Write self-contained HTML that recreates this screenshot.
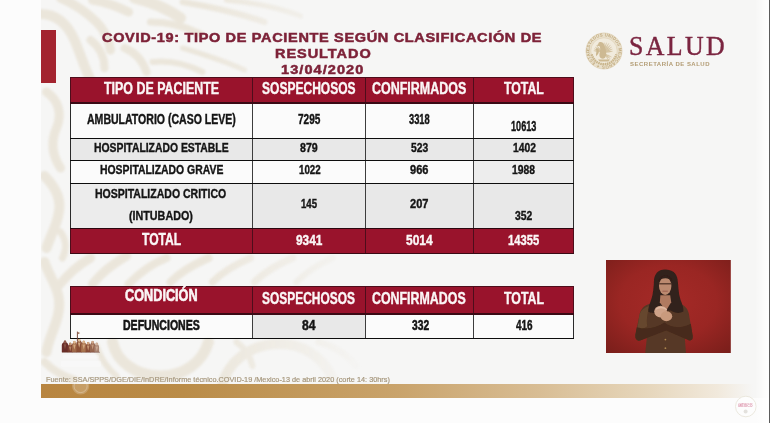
<!DOCTYPE html>
<html lang="es">
<head>
<meta charset="utf-8">
<title>COVID-19: Tipo de paciente según clasificación de resultado</title>
<style>
html,body{margin:0;padding:0;}
body{width:770px;height:423px;overflow:hidden;background:#fcfcfc;position:relative;font-family:"Liberation Sans","DejaVu Sans",sans-serif;}
#stage{position:absolute;left:0;top:0;width:770px;height:423px;overflow:hidden;background:#fcfcfc;}
#slide{position:absolute;left:40.5px;top:0;width:729.5px;height:397.7px;background:#f6f6f5;overflow:hidden;}
.b{position:absolute;}
.t{position:absolute;white-space:nowrap;transform-origin:0 0;display:block;}
.f1{font-family:"Liberation Sans","DejaVu Sans",sans-serif;}
.f2{font-family:"Liberation Serif","DejaVu Serif",serif;}
#redbar{position:absolute;left:40.8px;top:30.4px;width:14.8px;height:52.8px;background:#a3242f;}
#gold{position:absolute;left:40.5px;top:384.4px;width:712px;height:13.2px;background:linear-gradient(90deg,#b88540 0%,#ba8c48 20%,#c9a36b 50%,#d8bd94 70%,#e6d6bb 85%,#f1e9dc 95%,#f6f6f5 100%);}
</style>
</head>
<body>
<div id="stage">
<div id="slide"></div>
<svg id="wm" class="b" style="left:40.5px;top:0" width="330" height="398" viewBox="40.5 0 330 398">
<defs><filter id="wblur" x="-10%" y="-10%" width="120%" height="120%"><feGaussianBlur stdDeviation="1.3"/></filter>
<linearGradient id="wfade" x1="0" x2="1" y1="0" y2="0"><stop offset="0" stop-color="#fff"/><stop offset="0.5" stop-color="#fff"/><stop offset="0.78" stop-color="#777"/><stop offset="1" stop-color="#000"/></linearGradient>
<mask id="wmask"><rect x="40" y="0" width="331" height="398" fill="url(#wfade)"/></mask></defs>
<g mask="url(#wmask)"><g filter="url(#wblur)" fill="none" stroke="#ebe6db" stroke-linecap="round" stroke-linejoin="round">
<!-- top-left big swoosh -->
<path d="M40 14 C54 14 66 22 74 40 C80 54 84 68 90 80" stroke-width="10"/>
<path d="M60 -2 C74 4 86 12 96 22 C104 30 108 38 110 50" stroke-width="9"/>
<path d="M90 40 C98 46 104 56 104 68" stroke-width="8"/>
<path d="M124 48 C134 52 142 60 146 72" stroke-width="8"/>
<path d="M152 62 C168 60 186 64 202 72" stroke-width="6"/>
<!-- top feathers -->
<path d="M92 0 C104 2 116 6 128 12" stroke-width="9"/>
<path d="M134 -2 C150 2 166 8 180 18" stroke-width="11"/>
<path d="M150 22 C166 22 184 26 200 34" stroke-width="7"/>
<path d="M182 2 C206 6 236 12 264 22" stroke-width="6"/>
<path d="M182 48 C202 54 222 60 244 70" stroke-width="5"/>
<path d="M226 0 C250 2 280 8 300 16" stroke-width="5"/>
<!-- left strip waves -->
<path d="M46 92 C58 100 62 114 56 128 C50 142 52 156 60 168" stroke-width="9"/>
<path d="M44 176 C54 186 62 198 58 214 C56 226 50 236 46 248" stroke-width="10"/>
<path d="M60 232 C66 240 66 250 62 258" stroke-width="7"/>
<path d="M44 262 C50 280 62 292 58 312 C56 326 48 338 46 352" stroke-width="10"/>
<path d="M44 362 C52 370 62 376 74 380" stroke-width="8"/>
<!-- between tables diagonal leaves -->
<path d="M58 286 C66 276 76 266 90 258" stroke-width="9"/>
<path d="M92 284 C100 274 112 264 126 256" stroke-width="9"/>
<path d="M128 284 C138 274 150 264 166 258" stroke-width="8"/>
<path d="M170 282 C180 272 194 264 208 258" stroke-width="8"/>
<path d="M212 282 C222 272 236 264 250 258" stroke-width="7"/>
<path d="M254 282 C264 272 278 264 292 258" stroke-width="7"/>
<path d="M296 282 C306 272 318 264 332 258" stroke-width="6"/>
<!-- bottom strip arcs -->
<path d="M112 342 C116 362 136 376 160 376 C184 376 202 362 208 342" stroke-width="11"/>
<path d="M222 384 C228 362 248 346 274 344 C300 342 322 356 332 378" stroke-width="10"/>
<path d="M96 346 C100 358 106 368 116 376" stroke-width="6"/>
<path d="M236 342 C244 348 250 356 252 366" stroke-width="6"/>
<path d="M318 342 C334 346 346 354 356 366" stroke-width="6"/>
<!-- faint fill inside table column 1 (cells slightly translucent) -->
</g></g>
</svg>

<div id="redbar"></div>
<div id="gold"></div>
<div class="b" style="left:70.8px;top:77.7px;width:502.9px;height:25.4px;background:#99132c;"></div>
<div class="b" style="left:70.8px;top:103.1px;width:181.4px;height:35.4px;background:rgba(252,252,252,0.8);"></div>
<div class="b" style="left:252.2px;top:103.1px;width:113.2px;height:35.4px;background:rgba(252,252,252,0.8);"></div>
<div class="b" style="left:365.4px;top:103.1px;width:108.3px;height:35.4px;background:rgba(252,252,252,0.8);"></div>
<div class="b" style="left:473.7px;top:103.1px;width:100.0px;height:35.4px;background:rgba(252,252,252,0.8);"></div>
<div class="b" style="left:70.8px;top:138.5px;width:181.4px;height:21.8px;background:rgba(231,231,231,0.9);"></div>
<div class="b" style="left:252.2px;top:138.5px;width:113.2px;height:21.8px;background:rgba(231,231,231,0.9);"></div>
<div class="b" style="left:365.4px;top:138.5px;width:108.3px;height:21.8px;background:rgba(231,231,231,0.9);"></div>
<div class="b" style="left:473.7px;top:138.5px;width:100.0px;height:21.8px;background:rgba(231,231,231,0.9);"></div>
<div class="b" style="left:70.8px;top:160.3px;width:181.4px;height:22.9px;background:rgba(252,252,252,0.8);"></div>
<div class="b" style="left:252.2px;top:160.3px;width:113.2px;height:22.9px;background:rgba(252,252,252,0.8);"></div>
<div class="b" style="left:365.4px;top:160.3px;width:108.3px;height:22.9px;background:rgba(252,252,252,0.8);"></div>
<div class="b" style="left:473.7px;top:160.3px;width:100.0px;height:22.9px;background:rgba(236,236,236,0.9);"></div>
<div class="b" style="left:70.8px;top:183.2px;width:181.4px;height:45.0px;background:rgba(234,234,234,0.88);"></div>
<div class="b" style="left:252.2px;top:183.2px;width:113.2px;height:45.0px;background:rgba(231,231,231,0.9);"></div>
<div class="b" style="left:365.4px;top:183.2px;width:108.3px;height:45.0px;background:rgba(231,231,231,0.9);"></div>
<div class="b" style="left:473.7px;top:183.2px;width:100.0px;height:45.0px;background:rgba(231,231,231,0.9);"></div>
<div class="b" style="left:70.8px;top:228.2px;width:502.9px;height:25.1px;background:#99132c;"></div>
<div class="b" style="left:70.8px;top:286.4px;width:502.9px;height:27.6px;background:#99132c;"></div>
<div class="b" style="left:70.8px;top:314.0px;width:181.4px;height:24.9px;background:rgba(252,252,252,0.8);"></div>
<div class="b" style="left:252.2px;top:314.0px;width:113.2px;height:24.9px;background:rgba(231,231,231,0.9);"></div>
<div class="b" style="left:365.4px;top:314.0px;width:108.3px;height:24.9px;background:rgba(252,252,252,0.8);"></div>
<div class="b" style="left:473.7px;top:314.0px;width:100.0px;height:24.9px;background:rgba(252,252,252,0.8);"></div>
<div class="b" style="left:70.3px;top:103.1px;width:1.0px;height:125.1px;background:#2b2b2b;"></div>
<div class="b" style="left:251.5px;top:103.1px;width:1.4px;height:125.1px;background:#3d3d3d;"></div>
<div class="b" style="left:364.7px;top:103.1px;width:1.4px;height:125.1px;background:#3d3d3d;"></div>
<div class="b" style="left:473.0px;top:103.1px;width:1.4px;height:125.1px;background:#3d3d3d;"></div>
<div class="b" style="left:573.2px;top:103.1px;width:1.0px;height:125.1px;background:#2b2b2b;"></div>
<div class="b" style="left:70.3px;top:77.7px;width:1.0px;height:25.4px;background:#4e0d1b;"></div>
<div class="b" style="left:70.3px;top:228.2px;width:1.0px;height:25.1px;background:#4e0d1b;"></div>
<div class="b" style="left:251.7px;top:77.7px;width:1.0px;height:25.4px;background:#4e0d1b;"></div>
<div class="b" style="left:251.7px;top:228.2px;width:1.0px;height:25.1px;background:#4e0d1b;"></div>
<div class="b" style="left:364.9px;top:77.7px;width:1.0px;height:25.4px;background:#4e0d1b;"></div>
<div class="b" style="left:364.9px;top:228.2px;width:1.0px;height:25.1px;background:#4e0d1b;"></div>
<div class="b" style="left:473.2px;top:77.7px;width:1.0px;height:25.4px;background:#4e0d1b;"></div>
<div class="b" style="left:473.2px;top:228.2px;width:1.0px;height:25.1px;background:#4e0d1b;"></div>
<div class="b" style="left:573.2px;top:77.7px;width:1.0px;height:25.4px;background:#4e0d1b;"></div>
<div class="b" style="left:573.2px;top:228.2px;width:1.0px;height:25.1px;background:#4e0d1b;"></div>
<div class="b" style="left:70.3px;top:77.2px;width:503.9px;height:0.9px;background:#4e0d1b;"></div>
<div class="b" style="left:70.3px;top:102.4px;width:503.9px;height:1.3px;background:#3a0a14;"></div>
<div class="b" style="left:70.3px;top:137.9px;width:503.9px;height:1.1px;background:#0d0d0d;"></div>
<div class="b" style="left:70.3px;top:159.8px;width:503.9px;height:1.1px;background:#0d0d0d;"></div>
<div class="b" style="left:70.3px;top:182.6px;width:503.9px;height:1.1px;background:#0d0d0d;"></div>
<div class="b" style="left:70.3px;top:227.6px;width:503.9px;height:1.2px;background:#2a070f;"></div>
<div class="b" style="left:70.3px;top:252.7px;width:503.9px;height:1.2px;background:#3a0a14;"></div>
<div class="b" style="left:70.3px;top:314.0px;width:1.0px;height:24.9px;background:#2b2b2b;"></div>
<div class="b" style="left:70.3px;top:286.4px;width:1.0px;height:27.6px;background:#4e0d1b;"></div>
<div class="b" style="left:251.5px;top:314.0px;width:1.4px;height:24.9px;background:#3d3d3d;"></div>
<div class="b" style="left:251.7px;top:286.4px;width:1.0px;height:27.6px;background:#4e0d1b;"></div>
<div class="b" style="left:364.7px;top:314.0px;width:1.4px;height:24.9px;background:#3d3d3d;"></div>
<div class="b" style="left:364.9px;top:286.4px;width:1.0px;height:27.6px;background:#4e0d1b;"></div>
<div class="b" style="left:473.0px;top:314.0px;width:1.4px;height:24.9px;background:#3d3d3d;"></div>
<div class="b" style="left:473.2px;top:286.4px;width:1.0px;height:27.6px;background:#4e0d1b;"></div>
<div class="b" style="left:573.2px;top:314.0px;width:1.0px;height:24.9px;background:#2b2b2b;"></div>
<div class="b" style="left:573.2px;top:286.4px;width:1.0px;height:27.6px;background:#4e0d1b;"></div>
<div class="b" style="left:70.3px;top:285.9px;width:503.9px;height:0.9px;background:#4e0d1b;"></div>
<div class="b" style="left:70.3px;top:313.4px;width:503.9px;height:1.3px;background:#3a0a14;"></div>
<div class="b" style="left:70.3px;top:338.3px;width:503.9px;height:1.2px;background:#0d0d0d;"></div>
<!-- SALUD emblem -->
<svg class="b" style="left:582.8px;top:29.7px" width="42" height="42" viewBox="0 0 42 42">
<defs><path id="ring" d="M21 21 m-14.7 0 a14.7 14.7 0 1 1 29.4 0 a14.7 14.7 0 1 1 -29.4 0"/>
<filter id="eb" x="-10%" y="-10%" width="120%" height="120%"><feGaussianBlur stdDeviation="0.35"/></filter></defs>
<g filter="url(#eb)">
<circle cx="21" cy="21" r="18.2" fill="#e9e0cc"/>
<circle cx="21" cy="21" r="13.1" fill="#f1ebdd"/>
<circle cx="21" cy="21" r="18" fill="none" stroke="#dccdae" stroke-width="0.6"/>
<circle cx="21" cy="21" r="13.2" fill="none" stroke="#dccdae" stroke-width="0.5"/>
<text font-family="Liberation Sans, DejaVu Sans, sans-serif" font-weight="700" font-size="4.3" fill="#c3ad82" letter-spacing="0.22"><textPath href="#ring" startOffset="0">ESTADOS UNIDOS MEXICANOS ✦ ESTADOS UNIDOS MEXICANOS ✦</textPath></text>
<g fill="#d6c5a1" stroke="#cbb890" stroke-width="0.25">
<path d="M20.50 22.50 Q19.67 17.38 17.05 13.97 Q17.54 18.24 20.50 22.50Z"/>
<path d="M20.50 22.50 Q20.81 17.13 19.01 13.07 Q18.54 17.49 20.50 22.50Z"/>
<path d="M20.50 22.50 Q22.03 17.15 21.19 12.62 Q19.73 16.99 20.50 22.50Z"/>
<path d="M20.50 22.50 Q23.25 17.45 23.50 12.70 Q21.05 16.77 20.50 22.50Z"/>
<path d="M20.50 22.50 Q24.41 18.03 25.80 13.32 Q22.42 16.88 20.50 22.50Z"/>
<path d="M20.50 22.50 Q25.19 19.16 27.49 15.00 Q23.50 17.59 20.50 22.50Z"/>
<path d="M20.50 22.50 Q25.66 20.41 28.71 16.96 Q24.37 18.50 20.50 22.50Z"/>
<path d="M20.50 22.50 Q25.82 21.69 29.42 19.08 Q24.99 19.54 20.50 22.50Z"/>
<path d="M20.50 22.50 Q25.67 22.93 29.61 21.22 Q25.35 20.66 20.50 22.50Z"/>
<path d="M18.50 21.50 Q14.31 20.13 10.73 20.82 Q14.14 22.12 18.50 21.50Z"/>
<path d="M18.50 21.50 Q14.81 19.09 11.17 18.83 Q14.13 20.97 18.50 21.50Z"/>
<path d="M18.50 21.50 Q15.56 18.22 12.11 17.03 Q14.41 19.86 18.50 21.50Z"/>
<path d="M18.50 21.50 Q16.51 17.57 13.49 15.52 Q14.98 18.86 18.50 21.50Z"/>
<path d="M22.00 24.00 Q25.21 26.49 28.53 27.04 Q25.97 24.86 22.00 24.00Z"/>
<path d="M22.00 24.00 Q24.34 27.32 27.35 28.82 Q25.55 25.98 22.00 24.00Z"/>
<path d="M22.00 24.00 Q23.20 27.88 25.60 30.24 Q24.76 26.98 22.00 24.00Z"/>
</g>
<path d="M16.2 12.2 C18.4 11.4 20.6 12.6 21.2 15 C22.4 18 23.4 21 23.2 24.4 C23 27.4 21 29.2 18.6 28.6 C16.6 28 16 25.6 16.6 23 C17.2 20.4 17.6 18 16.6 16.2 L13.4 15.6 L15.2 14.2 C15.2 13.4 15.6 12.6 16.2 12.2Z" fill="#cdb992"/>
<path d="M12.6 19 C14 17.6 15.4 18.6 15.8 20.4 C16.4 22.8 14.6 24.6 13.2 26.2 C12.6 24 13.8 22.2 13.4 20.6Z" fill="#cbb78f"/>
<path d="M8.6 24.4 C10.4 30.6 15.4 34.2 21 34.2 C26.6 34.2 31.6 30.6 33.4 24.4" fill="none" stroke="#c9b58c" stroke-width="2.5" stroke-dasharray="1.5 0.7"/>
<path d="M15 29.6 L27 29.6 L25.4 31.6 L16.6 31.6Z" fill="#cdb991"/>
</g>
</svg>
<!-- interpreter -->
<svg class="b" style="left:606.2px;top:259.8px" width="124.8" height="93" viewBox="606.2 259.8 124.8 93">
<defs><radialGradient id="rg" cx="0.5" cy="0.45" r="0.78"><stop offset="0" stop-color="#a52a27"/><stop offset="0.5" stop-color="#9a2623"/><stop offset="1" stop-color="#751d19"/></radialGradient>
<filter id="pb" x="-10%" y="-10%" width="120%" height="120%"><feGaussianBlur stdDeviation="0.55"/></filter></defs>
<rect x="606.2" y="259.8" width="124.8" height="93" fill="url(#rg)"/>
<g filter="url(#pb)">
<!-- jacket -->
<path d="M650 303.5 C644.5 305 641 308.5 639.8 314 L635.6 334.5 C635 338.5 637.2 341 640.4 340.4 L647 337.6 L645.4 353 L686.2 353 L685 337.4 L689 340 C692 341 693.4 338.6 692.8 335.4 L689 313.4 C687.8 308 684.4 304.6 679 303.4 L671 300.5 L660 300.5Z" fill="#573825"/>
<path d="M639.8 314 C642 309 646 306.4 650.6 305.6 C648 310 646.4 318 647.4 326 C644.6 328 641 329.4 637.4 329.6Z" fill="#6a4a31" opacity="0.8"/>
<path d="M637 327 C646 329.6 657 328 664.6 322.4 C671.4 328 682 328.6 691 323.6 L692.8 335.4 C693.4 338.6 692 341 689 340 L666.4 330.4 L640.4 340.4 C637.2 341 635 338.5 635.6 334.5Z" fill="#46291b"/>
<!-- hair -->
<path d="M665.4 269.2 C658.6 269 654.6 273.6 654.2 280 C653.8 287.4 653.4 294 651.2 300 C649.6 304.4 648 308.4 648.6 311.6 C652 313.6 657.6 313 660.6 310.4 L671 310.4 C674.6 313 680 313.6 683.6 311.4 C684 307.6 682.2 303.6 680.6 299.4 C678.6 293 678.6 285.4 677.8 279.2 C677 272.6 672.2 269.3 665.4 269.2Z" fill="#33201a"/>
<!-- neck / chest -->
<path d="M660.6 295 L670.4 295 L671.4 302 L666.2 310.6 L660 302.4Z" fill="#b07a61"/>
<!-- face -->
<ellipse cx="665.4" cy="285.8" rx="6.2" ry="9" fill="#bc8a70"/>
<path d="M659.4 283.6 L671.4 283.6" stroke="#4a2c22" stroke-width="1.2" fill="none"/>
<path d="M662.6 291 L668 291" stroke="#9a5a4c" stroke-width="0.9" fill="none"/>
<path d="M658.8 280.4 C660.4 274 670.2 273.6 672.4 280.4 C669.2 277.2 662.2 277 658.8 280.4Z" fill="#33201a"/>
<!-- hands -->
<ellipse cx="660.8" cy="311.4" rx="6.4" ry="5.8" fill="#cfa288"/>
<ellipse cx="666.6" cy="316" rx="5.8" ry="5" fill="#c99a7d"/>
<path d="M656 309 C659 306.6 664 306.8 667 309.6" stroke="#e0b9a2" stroke-width="1.4" fill="none"/>
<circle cx="665.6" cy="339.4" r="0.9" fill="#a88450"/>
<circle cx="665.6" cy="348" r="0.9" fill="#a88450"/>
</g>
</svg>
<!-- heroes icon -->
<svg class="b" style="left:60px;top:330px" width="42" height="24" viewBox="60 330 42 24">
<defs><filter id="hb" x="-10%" y="-10%" width="120%" height="120%"><feGaussianBlur stdDeviation="0.35"/></filter></defs>
<g filter="url(#hb)">
<rect x="76.9" y="331.6" width="0.9" height="9.5" fill="#6d3b2d"/>
<path d="M77.8 332 L80.2 333 L77.8 334.2Z" fill="#9a6a4e"/>
<path d="M61.8 352.3 L61.8 345.0 C61.8 343.0 63.8 342.8 63.8 342.0 C63.4 340.0 66.6 340.0 66.2 342.0 C66.2 342.8 68.2 343.0 68.2 345.0 L68.2 352.3Z" fill="#6a2f29"/>
<ellipse cx="65.0" cy="341.9" rx="1.2" ry="1.5" fill="#8f5a4a"/>
<path d="M63.7 344.2 L65.0 349.4 L66.3 344.2Z" fill="#8f5a4a" opacity="0.8"/>
<path d="M67.7 352.3 L67.7 347.2 C67.7 345.2 69.0 345.0 69.0 344.2 C68.6 342.2 71.8 342.2 71.4 344.2 C71.4 345.0 72.7 345.2 72.7 347.2 L72.7 352.3Z" fill="#7a3c2f"/>
<ellipse cx="70.2" cy="344.1" rx="1.2" ry="1.5" fill="#c69873"/>
<path d="M68.9 346.4 L70.2 351.6 L71.5 346.4Z" fill="#c69873" opacity="0.8"/>
<path d="M71.8 352.3 L71.8 345.4 C71.8 343.4 73.2 343.2 73.2 342.4 C72.8 340.4 76.0 340.4 75.6 342.4 C75.6 343.2 77.0 343.4 77.0 345.4 L77.0 352.3Z" fill="#a06a48"/>
<ellipse cx="74.4" cy="342.3" rx="1.2" ry="1.5" fill="#ddb68c"/>
<path d="M73.1 344.6 L74.4 349.8 L75.7 344.6Z" fill="#ddb68c" opacity="0.8"/>
<path d="M76.4 352.3 L76.4 343.4 C76.4 341.4 78.0 341.2 78.0 340.4 C77.6 338.4 80.8 338.4 80.4 340.4 C80.4 341.2 82.0 341.4 82.0 343.4 L82.0 352.3Z" fill="#8a4f36"/>
<ellipse cx="79.2" cy="340.3" rx="1.2" ry="1.5" fill="#e2c096"/>
<path d="M77.9 342.6 L79.2 347.8 L80.5 342.6Z" fill="#e2c096" opacity="0.8"/>
<path d="M81.2 352.3 L81.2 345.2 C81.2 343.2 82.6 343.0 82.6 342.2 C82.2 340.2 85.4 340.2 85.0 342.2 C85.0 343.0 86.4 343.2 86.4 345.2 L86.4 352.3Z" fill="#a9744f"/>
<ellipse cx="83.8" cy="342.1" rx="1.2" ry="1.5" fill="#dcb58c"/>
<path d="M82.5 344.4 L83.8 349.6 L85.1 344.4Z" fill="#dcb58c" opacity="0.8"/>
<path d="M85.6 352.3 L85.6 346.4 C85.6 344.4 87.0 344.2 87.0 343.4 C86.6 341.4 89.8 341.4 89.4 343.4 C89.4 344.2 90.8 344.4 90.8 346.4 L90.8 352.3Z" fill="#8a5038"/>
<ellipse cx="88.2" cy="343.3" rx="1.2" ry="1.5" fill="#d3a882"/>
<path d="M86.9 345.6 L88.2 350.8 L89.5 345.6Z" fill="#d3a882" opacity="0.8"/>
<path d="M90.1 352.3 L90.1 345.4 C90.1 343.4 91.4 343.2 91.4 342.4 C91.0 340.4 94.2 340.4 93.8 342.4 C93.8 343.2 95.1 343.4 95.1 345.4 L95.1 352.3Z" fill="#966650"/>
<ellipse cx="92.6" cy="342.3" rx="1.2" ry="1.5" fill="#cfa688"/>
<path d="M91.3 344.6 L92.6 349.8 L93.9 344.6Z" fill="#cfa688" opacity="0.8"/>
<path d="M94.5 352.3 L94.5 347.2 C94.5 345.2 95.6 345.0 95.6 344.2 C95.2 342.2 98.4 342.2 98.0 344.2 C98.0 345.0 99.1 345.2 99.1 347.2 L99.1 352.3Z" fill="#a98472"/>
<ellipse cx="96.8" cy="344.1" rx="1.2" ry="1.5" fill="#d2b29c"/>
<path d="M95.5 346.4 L96.8 351.6 L98.1 346.4Z" fill="#d2b29c" opacity="0.8"/>
<path d="M62 352.3 L100 352.3" stroke="#5c2a22" stroke-width="0.7" opacity="0.6"/>
</g>
</svg>
<!-- white gobierno watermark over footer -->
<svg class="b" style="left:58px;top:352px" width="46" height="46" viewBox="58 352 46 46">
<g fill="#ffffff" opacity="0.32">
<rect x="63" y="355" width="36" height="3.2" rx="1"/>
<rect x="61" y="361" width="40" height="5.4" rx="1"/>
<circle cx="80.6" cy="386" r="8.6" opacity="0.6"/>
</g>
<circle cx="80.6" cy="386" r="6.6" fill="none" stroke="#fff" stroke-width="0.9" opacity="0.3"/>
</svg>
<!-- bottom-right seal -->
<svg class="b" style="left:733px;top:394px" width="26" height="26" viewBox="733 394 26 26">
<circle cx="745.8" cy="406.5" r="10.3" fill="#fdfdfd" stroke="#e9e5da" stroke-width="0.9"/>
<text x="745.5" y="403.9" text-anchor="middle" font-family="Liberation Sans, DejaVu Sans, sans-serif" font-size="2.5" font-weight="700" fill="#e3a6b9" textLength="14.2" lengthAdjust="spacingAndGlyphs">GOBIERNO DE</text>
<text x="745.5" y="406.8" text-anchor="middle" font-family="Liberation Sans, DejaVu Sans, sans-serif" font-size="2.7" font-weight="700" fill="#dc92aa" textLength="14.4" lengthAdjust="spacingAndGlyphs">MÉXICO</text>
<circle cx="745.6" cy="411.4" r="2" fill="#e3e1dd"/>
</svg>
<div class="b" style="left:755px;top:0;width:14px;height:423px;background:linear-gradient(90deg,rgba(255,255,255,0) 0%,rgba(255,255,255,0.75) 70%,#fff 100%)"></div>
<div class="b" style="left:769px;top:0;width:1px;height:423px;background:#5c5c5c"></div>

<span class="t f1" style="left:102.30px;top:30.04px;font-size:12.85px;line-height:15.42px;font-weight:700;color:#7d2238;transform:scaleX(1.1300);letter-spacing:0.585px;-webkit-text-stroke:0.5px #7d2238">COVID-19: TIPO DE PACIENTE SEGÚN CLASIFICACIÓN DE</span>
<span class="t f1" style="left:274.50px;top:46.14px;font-size:12.85px;line-height:15.42px;font-weight:700;color:#7d2238;transform:scaleX(1.1300);letter-spacing:0.834px;-webkit-text-stroke:0.5px #7d2238">RESULTADO</span>
<span class="t f1" style="left:281.20px;top:62.14px;font-size:12.85px;line-height:15.42px;font-weight:700;color:#7d2238;transform:scaleX(1.1300);letter-spacing:0.946px;-webkit-text-stroke:0.5px #7d2238">13/04/2020</span>
<span class="t f1" style="left:103.80px;top:78.93px;font-size:15.92px;line-height:19.1px;font-weight:700;color:#fbf6f6;transform:scaleX(0.7813);-webkit-text-stroke:0.4px #fbf6f6">TIPO DE PACIENTE</span>
<span class="t f1" style="left:261.70px;top:78.93px;font-size:15.92px;line-height:19.1px;font-weight:700;color:#fbf6f6;transform:scaleX(0.7561);-webkit-text-stroke:0.4px #fbf6f6">SOSPECHOSOS</span>
<span class="t f1" style="left:372.00px;top:78.93px;font-size:15.92px;line-height:19.1px;font-weight:700;color:#fbf6f6;transform:scaleX(0.7845);-webkit-text-stroke:0.4px #fbf6f6">CONFIRMADOS</span>
<span class="t f1" style="left:504.00px;top:78.93px;font-size:15.92px;line-height:19.1px;font-weight:700;color:#fbf6f6;transform:scaleX(0.7738);-webkit-text-stroke:0.4px #fbf6f6">TOTAL</span>
<span class="t f1" style="left:87.00px;top:111.01px;font-size:13.83px;line-height:16.6px;font-weight:700;color:#141414;transform:scaleX(0.7619);-webkit-text-stroke:0.4px #141414">AMBULATORIO (CASO LEVE)</span>
<span class="t f1" style="left:297.60px;top:111.01px;font-size:13.83px;line-height:16.6px;font-weight:700;color:#141414;transform:scaleX(0.7274);-webkit-text-stroke:0.4px #141414">7295</span>
<span class="t f1" style="left:409.10px;top:111.01px;font-size:13.83px;line-height:16.6px;font-weight:700;color:#141414;transform:scaleX(0.6726);-webkit-text-stroke:0.4px #141414">3318</span>
<span class="t f1" style="left:511.00px;top:118.01px;font-size:13.83px;line-height:16.6px;font-weight:700;color:#141414;transform:scaleX(0.6604);-webkit-text-stroke:0.4px #141414">10613</span>
<span class="t f1" style="left:93.80px;top:140.07px;font-size:13.55px;line-height:16.26px;font-weight:700;color:#141414;transform:scaleX(0.7666);-webkit-text-stroke:0.4px #141414">HOSPITALIZADO ESTABLE</span>
<span class="t f1" style="left:300.10px;top:140.07px;font-size:13.55px;line-height:16.26px;font-weight:700;color:#141414;transform:scaleX(0.7846);-webkit-text-stroke:0.4px #141414">879</span>
<span class="t f1" style="left:410.90px;top:140.07px;font-size:13.55px;line-height:16.26px;font-weight:700;color:#141414;transform:scaleX(0.7586);-webkit-text-stroke:0.4px #141414">523</span>
<span class="t f1" style="left:512.80px;top:140.07px;font-size:13.55px;line-height:16.26px;font-weight:700;color:#141414;transform:scaleX(0.7601);-webkit-text-stroke:0.4px #141414">1402</span>
<span class="t f1" style="left:99.60px;top:161.87px;font-size:13.55px;line-height:16.26px;font-weight:700;color:#141414;transform:scaleX(0.7681);-webkit-text-stroke:0.4px #141414">HOSPITALIZADO GRAVE</span>
<span class="t f1" style="left:298.90px;top:161.87px;font-size:13.55px;line-height:16.26px;font-weight:700;color:#141414;transform:scaleX(0.7195);-webkit-text-stroke:0.4px #141414">1022</span>
<span class="t f1" style="left:410.40px;top:161.87px;font-size:13.55px;line-height:16.26px;font-weight:700;color:#141414;transform:scaleX(0.8150);-webkit-text-stroke:0.4px #141414">966</span>
<span class="t f1" style="left:512.00px;top:161.87px;font-size:13.55px;line-height:16.26px;font-weight:700;color:#141414;transform:scaleX(0.7614);-webkit-text-stroke:0.4px #141414">1988</span>
<span class="t f1" style="left:95.10px;top:185.67px;font-size:13.55px;line-height:16.26px;font-weight:700;color:#141414;transform:scaleX(0.7761);-webkit-text-stroke:0.4px #141414">HOSPITALIZADO CRITICO</span>
<span class="t f1" style="left:129.40px;top:208.27px;font-size:13.55px;line-height:16.26px;font-weight:700;color:#141414;transform:scaleX(0.7925);-webkit-text-stroke:0.4px #141414">(INTUBADO)</span>
<span class="t f1" style="left:300.90px;top:196.27px;font-size:13.55px;line-height:16.26px;font-weight:700;color:#141414;transform:scaleX(0.7066);-webkit-text-stroke:0.4px #141414">145</span>
<span class="t f1" style="left:410.40px;top:196.27px;font-size:13.55px;line-height:16.26px;font-weight:700;color:#141414;transform:scaleX(0.8157);-webkit-text-stroke:0.4px #141414">207</span>
<span class="t f1" style="left:515.30px;top:207.57px;font-size:13.55px;line-height:16.26px;font-weight:700;color:#141414;transform:scaleX(0.7613);-webkit-text-stroke:0.4px #141414">352</span>
<span class="t f1" style="left:141.90px;top:230.70px;font-size:15.64px;line-height:18.77px;font-weight:700;color:#fbf6f6;transform:scaleX(0.7752);-webkit-text-stroke:0.4px #fbf6f6">TOTAL</span>
<span class="t f1" style="left:295.90px;top:231.26px;font-size:15.36px;line-height:18.43px;font-weight:700;color:#fbf6f6;transform:scaleX(0.7740);-webkit-text-stroke:0.4px #fbf6f6">9341</span>
<span class="t f1" style="left:405.90px;top:231.26px;font-size:15.36px;line-height:18.43px;font-weight:700;color:#fbf6f6;transform:scaleX(0.7826);-webkit-text-stroke:0.4px #fbf6f6">5014</span>
<span class="t f1" style="left:508.30px;top:231.26px;font-size:15.36px;line-height:18.43px;font-weight:700;color:#fbf6f6;transform:scaleX(0.7297);-webkit-text-stroke:0.4px #fbf6f6">14355</span>
<span class="t f1" style="left:125.40px;top:285.90px;font-size:16.06px;line-height:19.27px;font-weight:700;color:#fbf6f6;transform:scaleX(0.7914);-webkit-text-stroke:0.6px #fbf6f6">CONDICIÓN</span>
<span class="t f1" style="left:261.70px;top:289.47px;font-size:16.2px;line-height:19.44px;font-weight:700;color:#fbf6f6;transform:scaleX(0.7381);-webkit-text-stroke:0.4px #fbf6f6">SOSPECHOSOS</span>
<span class="t f1" style="left:372.00px;top:289.47px;font-size:16.2px;line-height:19.44px;font-weight:700;color:#fbf6f6;transform:scaleX(0.7657);-webkit-text-stroke:0.4px #fbf6f6">CONFIRMADOS</span>
<span class="t f1" style="left:504.00px;top:289.47px;font-size:16.2px;line-height:19.44px;font-weight:700;color:#fbf6f6;transform:scaleX(0.7629);-webkit-text-stroke:0.4px #fbf6f6">TOTAL</span>
<span class="t f1" style="left:122.71px;top:315.90px;font-size:15.22px;line-height:18.26px;font-weight:700;color:#141414;transform:scaleX(0.6933);-webkit-text-stroke:0.6px #141414">DEFUNCIONES</span>
<span class="t f1" style="left:301.90px;top:316.02px;font-size:15.08px;line-height:18.1px;font-weight:700;color:#141414;transform:scaleX(0.8053);-webkit-text-stroke:0.5px #141414">84</span>
<span class="t f1" style="left:411.70px;top:316.02px;font-size:15.08px;line-height:18.1px;font-weight:700;color:#141414;transform:scaleX(0.6822);-webkit-text-stroke:0.5px #141414">332</span>
<span class="t f1" style="left:516.00px;top:316.02px;font-size:15.08px;line-height:18.1px;font-weight:700;color:#141414;transform:scaleX(0.6580);-webkit-text-stroke:0.5px #141414">416</span>
<span class="t f2" style="left:629.05px;top:29.62px;font-size:27.18px;line-height:32.62px;font-weight:400;color:#7b2540;transform:scaleX(0.9500);letter-spacing:2.498px;-webkit-text-stroke:0.45px #7b2540">SALUD</span>
<span class="t f1" style="left:629.90px;top:60.97px;font-size:5.73px;line-height:6.88px;font-weight:700;color:#b29b72;transform:scaleX(1.0500);letter-spacing:0.465px">SECRETARÍA DE SALUD</span>
<span class="t f1" style="left:46.10px;top:375.36px;font-size:7.54px;line-height:9.05px;font-weight:400;color:#a5967c;transform:scaleX(0.9698);-webkit-text-stroke:0.2px #a5967c">Fuente: SSA/SPPS/DGE/DIE/InDRE/Informe técnico.COVID-19 /Mexico-13 de abril 2020 (corte 14: 30hrs)</span>
</div>
</body>
</html>
